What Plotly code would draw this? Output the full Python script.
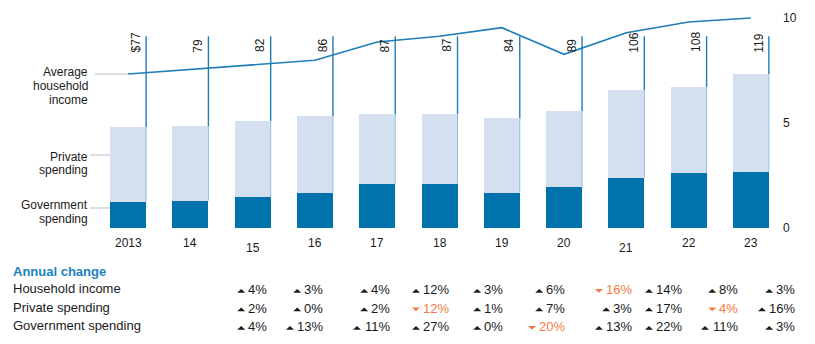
import plotly.graph_objects as go

# ---------------- data ----------------
years = ["2013", "14", "15", "16", "17", "18", "19", "20", "21", "22", "23"]
government_spending = [1.26, 1.30, 1.46, 1.69, 2.10, 2.10, 1.69, 1.95, 2.40, 2.64, 2.69]
private_spending = [3.55, 3.54, 3.64, 3.63, 3.31, 3.31, 3.53, 3.61, 4.17, 4.06, 4.63]
household_income_line = [7.33, 7.54, 7.77, 7.99, 8.86, 9.13, 9.54, 8.27, 9.30, 9.81, 10.0]
income_labels = ["$77", "79", "82", "86", "87", "87", "84", "89", "106", "108", "119"]

right_ticks = [0, 5, 10]

change_rows = ["Household income", "Private spending", "Government spending"]
household_income_change = [4, 3, 4, 12, 3, 6, -16, 14, 8, 3]
private_spending_change = [2, 0, 2, -12, 1, 7, 3, 17, -4, 16]
government_spending_change = [4, 13, 11, 27, 0, -20, 13, 22, 11, 3]

# ---------------- layout constants ----------------
W, H = 815, 344
ML, MR, MT, MB = 97, 33, 0, 116
PW, PH = W - ML - MR, H - MT - MB
Y_TOP = PH / 21.0          # 21 px per unit
BAR_W = 0.578
LABEL_TOP = 9.13           # top of the vertical marker lines
LABEL_BASE = 8.27          # bottom of rotated income labels

FONT = "Liberation Sans, Arial, Helvetica, sans-serif"
DARK = "#0073AD"
LIGHT = "#D4DFEF"
LINE = "#1F7DB6"
ORANGE = "#F37A45"
TXT = "#1a1a1a"
TBL_SIZE = 13


def px_x(px):
    return (px - ML) / PW


def px_y(py):
    return (MT + PH - py) / PH


n = len(years)
xs = list(range(n))

fig = go.Figure()
fig.add_trace(go.Bar(x=xs, y=government_spending, width=BAR_W,
                     marker=dict(color=DARK, line=dict(width=0)),
                     name="Government spending"))
fig.add_trace(go.Bar(x=xs, y=private_spending, width=BAR_W,
                     marker=dict(color=LIGHT, line=dict(width=0)),
                     name="Private spending"))
fig.add_trace(go.Scatter(x=xs, y=household_income_line, mode="lines",
                         line=dict(color=LINE, width=1.6),
                         name="Average household income", cliponaxis=False))

shapes = []
annotations = []

totals = [g + p for g, p in zip(government_spending, private_spending)]
for i in range(n):
    edge = i + BAR_W / 2
    shapes.append(dict(type="line", xref="x", yref="y", x0=edge, x1=edge,
                       y0=totals[i], y1=LABEL_TOP, layer="below",
                       line=dict(color=LINE, width=1.4)))
    shapes.append(dict(type="line", xref="x", yref="y", x0=edge, x1=edge,
                       y0=government_spending[i], y1=totals[i], layer="above",
                       line=dict(color="#8FC0E0", width=1)))
    annotations.append(dict(x=edge, y=LABEL_BASE, xref="x", yref="y",
                            text=income_labels[i], textangle=-90,
                            xanchor="center", yanchor="bottom", xshift=-10,
                            showarrow=False, font=dict(size=12, color=TXT, family=FONT)))
    lowered = years[i] in ("15", "21")
    annotations.append(dict(x=i, y=0, xref="x", yref="y", text=years[i],
                            xanchor="center", yanchor="middle",
                            yshift=-19.5 if lowered else -15,
                            showarrow=False, font=dict(size=12, color=TXT, family=FONT)))

# leader lines
leader = dict(color="#c8c8c8", width=1.2)
shapes.append(dict(type="line", xref="paper", yref="y", x0=px_x(95), x1=px_x(128),
                   y0=household_income_line[0], y1=household_income_line[0], line=leader))
shapes.append(dict(type="line", xref="paper", yref="paper", x0=px_x(90), x1=px_x(110),
                   y0=px_y(155), y1=px_y(155), line=leader))
shapes.append(dict(type="line", xref="paper", yref="paper", x0=px_x(90), x1=px_x(110),
                   y0=px_y(208), y1=px_y(208), line=leader))

# left series labels
left_lines = [("Average", 72), ("household", 86), ("income", 100),
              ("Private", 157), ("spending", 170),
              ("Government", 205), ("spending", 219)]
for t, py in left_lines:
    annotations.append(dict(x=px_x(90), y=px_y(py), xref="paper", yref="paper",
                            text=t, xanchor="right", yanchor="middle", showarrow=False,
                            font=dict(size=12, color=TXT, family=FONT)))

# table
annotations.append(dict(x=px_x(11), y=px_y(271), xref="paper", yref="paper",
                        text="<b>Annual change</b>", xanchor="left", yanchor="middle",
                        showarrow=False, font=dict(size=13, color="#1B83C0", family=FONT)))
row_y = [288.5, 307, 325.5]
val_y = [289.5, 308, 326.5]
col_right = [267, 323, 390, 449, 503, 565, 632, 682, 738, 795]
row_values = [household_income_change, private_spending_change, government_spending_change]
for r, (name, vals) in enumerate(zip(change_rows, row_values)):
    annotations.append(dict(x=px_x(11), y=px_y(row_y[r]), xref="paper", yref="paper",
                            text=name, xanchor="left", yanchor="middle", showarrow=False,
                            font=dict(size=TBL_SIZE, color=TXT, family=FONT)))
    for c, v in enumerate(vals):
        col = ORANGE if v < 0 else TXT
        label = f"{abs(v)}%"
        annotations.append(dict(x=px_x(col_right[c]), y=px_y(val_y[r]), xref="paper",
                                yref="paper", text=label, xanchor="right", yanchor="middle",
                                borderpad=0, borderwidth=0,
                                showarrow=False, font=dict(size=TBL_SIZE, color=col, family=FONT)))
        # small flat direction triangle to the left of the number
        text_w = TBL_SIZE * (0.556 * len(str(abs(v))) + 0.889)
        tr = col_right[c] - text_w - 3
        tl = tr - 8
        yt = val_y[r] - 0.5
        yb = val_y[r] + 3.2
        if v < 0:
            path = (f"M {px_x(tl)},{px_y(yt)} L {px_x(tr)},{px_y(yt)} "
                    f"L {px_x((tl + tr) / 2)},{px_y(yb)} Z")
        else:
            path = (f"M {px_x(tl)},{px_y(yb)} L {px_x(tr)},{px_y(yb)} "
                    f"L {px_x((tl + tr) / 2)},{px_y(yt)} Z")
        shapes.append(dict(type="path", xref="paper", yref="paper", path=path,
                           fillcolor=col, line=dict(width=0)))

fig.update_layout(
    width=W, height=H,
    margin=dict(l=ML, r=MR, t=MT, b=MB, pad=0),
    barmode="stack", bargap=0,
    showlegend=False,
    plot_bgcolor="white", paper_bgcolor="white",
    font=dict(family=FONT, size=12, color=TXT),
    xaxis=dict(range=[-0.5, n - 0.5], showticklabels=False, showgrid=False,
               zeroline=False, showline=False, ticks="", fixedrange=True),
    yaxis=dict(range=[0, Y_TOP], side="right", tickvals=right_ticks,
               showgrid=False, zeroline=False, showline=False, ticks="",
               tickfont=dict(size=12, color=TXT, family=FONT), fixedrange=True),
    shapes=shapes, annotations=annotations,
)

fig.write_html("out.html", config={"displayModeBar": False})
